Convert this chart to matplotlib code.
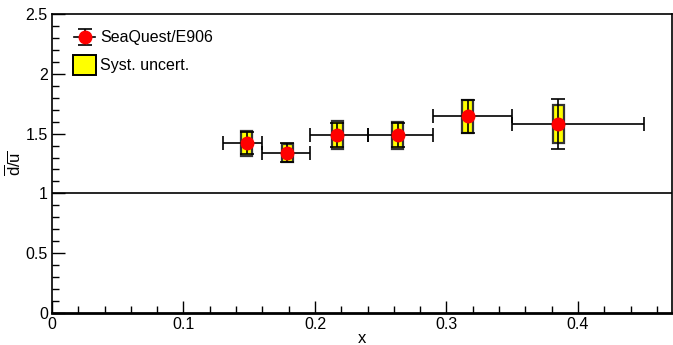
import matplotlib
matplotlib.use("Agg")
import matplotlib.pyplot as plt
from matplotlib.patches import Rectangle
from matplotlib.ticker import MultipleLocator, FuncFormatter

plt.rcParams['font.family'] = ['Liberation Sans', 'DejaVu Sans']
plt.rcParams['mathtext.fontset'] = 'custom'
plt.rcParams['mathtext.rm'] = 'Liberation Sans'
plt.rcParams['mathtext.it'] = 'Liberation Sans'

x = [0.148, 0.179, 0.217, 0.263, 0.316, 0.385]
x_lo = [0.130, 0.160, 0.196, 0.240, 0.290, 0.350]
x_hi = [0.160, 0.196, 0.240, 0.290, 0.350, 0.450]
ratio = [1.42, 1.34, 1.49, 1.485, 1.645, 1.58]
stat = [0.09, 0.08, 0.10, 0.10, 0.14, 0.21]
syst = [0.105, 0.075, 0.115, 0.11, 0.14, 0.155]
legend_labels = ['SeaQuest/E906', 'Syst. uncert.']

fig = plt.figure(figsize=(6.73, 3.45), dpi=100)
ax = fig.add_axes([52/673, 32/345, 620/673, 299/345])

box_w = 0.0085
for xi, yi, s in zip(x, ratio, syst):
    ax.add_patch(Rectangle((xi - box_w/2, yi - s), box_w, 2*s,
                           facecolor='#ffff00', edgecolor='#333333', lw=1.6, zorder=2))

xerr = [[xi - l for xi, l in zip(x, x_lo)], [h - xi for xi, h in zip(x, x_hi)]]
ax.errorbar(x, ratio, xerr=xerr, yerr=stat, fmt='o', color='black', ecolor='black',
            mfc='red', mec='red', ms=9, elinewidth=1.2, capsize=5, capthick=1.2, zorder=3)

ax.axhline(1.0, color='black', lw=1.2, zorder=1)

ax.set_xlim(0, 0.4715)
ax.set_ylim(0, 2.5)
ax.xaxis.set_major_locator(MultipleLocator(0.1))
ax.xaxis.set_minor_locator(MultipleLocator(0.02))
ax.yaxis.set_major_locator(MultipleLocator(0.5))
ax.yaxis.set_minor_locator(MultipleLocator(0.1))
ax.tick_params(which='both', direction='in', top=False, right=False, labelsize=11.5)
ax.tick_params(which='major', length=9, width=1, pad=3)
ax.tick_params(which='minor', length=5, width=1)
ax.xaxis.set_major_formatter(FuncFormatter(lambda v, p: f"{v:g}"))
ax.yaxis.set_major_formatter(FuncFormatter(lambda v, p: f"{v:g}"))
for sp in ax.spines.values():
    sp.set_linewidth(1.2)
ax.spines['bottom'].set_linewidth(2)

ax.set_xlabel('x', fontsize=12, va='center')
ax.xaxis.set_label_coords(0.5, -0.084)
ax.set_ylabel(r'$\overline{\mathrm{d}}/\overline{\mathrm{u}}$', fontsize=12, va='center')
ax.yaxis.set_label_coords(-0.061, 0.5)

# manual legend (ROOT style)
T = ax.transAxes
mx, my = 0.053, 0.923
ax.plot([mx - 0.017, mx + 0.017], [my, my], color='black', lw=1.2, transform=T, clip_on=False)
ax.errorbar([mx], [my], yerr=[0.028], fmt='o', color='black', mfc='red', mec='red', ms=9,
            capsize=5, elinewidth=1.2, capthick=1.2, transform=T, clip_on=False)
ax.text(0.078, my, legend_labels[0], transform=T, fontsize=11.5, va='center', ha='left')
ax.add_patch(Rectangle((0.034, 0.796), 0.037, 0.067, transform=T, facecolor='#ffff00',
                       edgecolor='black', lw=1.4))
ax.text(0.078, 0.829, legend_labels[1], transform=T, fontsize=11.5, va='center', ha='left')

fig.savefig('out.png', dpi=100)
